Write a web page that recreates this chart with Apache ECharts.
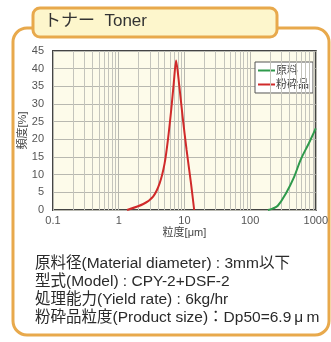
<!DOCTYPE html>
<html><head><meta charset="utf-8">
<script src="https://cdn.jsdelivr.net/npm/echarts@6/dist/echarts.min.js"></script>
<style>html,body{margin:0;padding:0;background:#fff}#c{width:331px;height:342px}</style>
</head><body><div id="c"></div>
<script>
const xTicks = [0.1, 1, 10, 100, 1000];
const yTicks = [0, 5, 10, 15, 20, 25, 30, 35, 40, 45];
const minorX = [0.2,0.3,0.4,0.5,0.6,0.7,0.8,0.9,2,3,4,5,6,7,8,9,20,30,40,50,60,70,80,90,200,300,400,500,600,700,800,900];
const seriesNames = ['原料', '粉砕品'];
const rawX = [187, 220, 264, 351, 469, 588, 785, 1000];
const rawY = [0, 0.4, 1.2, 4.7, 9.4, 14.2, 18.9, 23.1];
const prodX = [1.34, 2.37, 3.34, 4.21, 5.0, 5.61, 6.30, 6.89, 7.48, 8.39, 9.4, 10.8, 12.6, 14.1];
const prodY = [0, 1.7, 3.8, 7.6, 13.2, 19.8, 28.3, 35.9, 42.3, 34.9, 26.4, 17, 7.6, 0];
const infoLines = [
  '原料径(Material diameter) : 3mm以下',
  '型式(Model) : CPY-2+DSF-2',
  '処理能力(Yield rate) : 6kg/hr',
  '粉砕品粒度(Product size)：Dp50=6.9\u2009μ\u2009m'
];
const titleText = 'トナー  Toner';

const font = '"Liberation Sans", "Noto Sans CJK JP", sans-serif';
const chart = echarts.init(document.getElementById('c'), null, {renderer: 'canvas'});
const zip = (xs, ys) => xs.map((x, i) => [x, ys[i]]);
const orange = '#e8a94c';
chart.setOption({
  animation: false,
  textStyle: {fontFamily: font},
  grid: {left: 53, top: 51, right: 11, bottom: 132, show: true, backgroundColor: '#fdfbea', borderColor: '#444', borderWidth: 2},
  xAxis: {
    type: 'log', logBase: 10, min: xTicks[0], max: xTicks[xTicks.length - 1],
    name: '粒度[μm]', nameLocation: 'middle', nameGap: 17,
    nameTextStyle: {fontSize: 11, color: '#444'},
    axisLine: {show: false}, axisTick: {show: false},
    axisLabel: {fontSize: 11, color: '#555', margin: 5, formatter: v => String(+v.toPrecision(3))},
    splitLine: {show: true, lineStyle: {color: '#b8b8b0', width: 1}}
  },
  yAxis: {
    type: 'value', min: yTicks[0], max: yTicks[yTicks.length - 1], interval: 5,
    name: '頻度[%]', nameLocation: 'middle', nameRotate: 90, nameGap: 25, nameMoveOverlap: false,
    nameTextStyle: {fontSize: 11, color: '#444'},
    axisLine: {show: false}, axisTick: {show: false},
    axisLabel: {fontSize: 11, color: '#555', margin: 9},
    splitLine: {show: true, lineStyle: {color: '#b8b8b0', width: 1}}
  },
  legend: {
    left: 255, top: 62, orient: 'vertical', itemGap: 3,
    data: [seriesNames[0], seriesNames[1]],
    icon: 'rect', itemWidth: 17, itemHeight: 2,
    backgroundColor: '#fff', borderColor: '#555', borderWidth: 1, padding: [3, 4, 3, 3],
    textStyle: {fontSize: 11, color: '#444', padding: [0, 0, 0, -4]}
  },
  series: [
    {name: seriesNames[0], type: 'line', data: zip(rawX, rawY), smooth: 0.4, symbol: 'none',
     lineStyle: {color: '#2f9a4c', width: 2}, itemStyle: {color: '#2f9a4c'}, z: 5},
    {name: seriesNames[1], type: 'line', data: zip(prodX, prodY), smooth: 0.25, symbol: 'none',
     lineStyle: {color: '#d02a2a', width: 2}, itemStyle: {color: '#d02a2a'}, z: 5,
     markLine: {silent: true, symbol: 'none', label: {show: false}, animation: false,
       lineStyle: {color: '#c4c4bc', width: 1, type: 'solid'},
       data: minorX.map(v => ({xAxis: v}))}}
  ],
  graphic: [
    {type: 'rect', z: -5, shape: {x: 13, y: 28, width: 316, height: 307, r: 14},
     style: {fill: 'transparent', stroke: orange, lineWidth: 3}},
    {type: 'rect', z: 10, shape: {x: 33, y: 8, width: 244, height: 29, r: 7},
     style: {fill: '#fdf6cc', stroke: orange, lineWidth: 3}},
    {type: 'text', z: 11, left: 44, top: 13,
     style: {text: titleText, font: '17px ' + font, fill: '#333'}},
    ...infoLines.map((t, i) => ({type: 'text', z: 11, left: 35, top: 256 + i * 18,
      style: {text: t, font: '15.5px ' + font, fill: '#2a2a2a'}}))
  ]
});
</script></body></html>
